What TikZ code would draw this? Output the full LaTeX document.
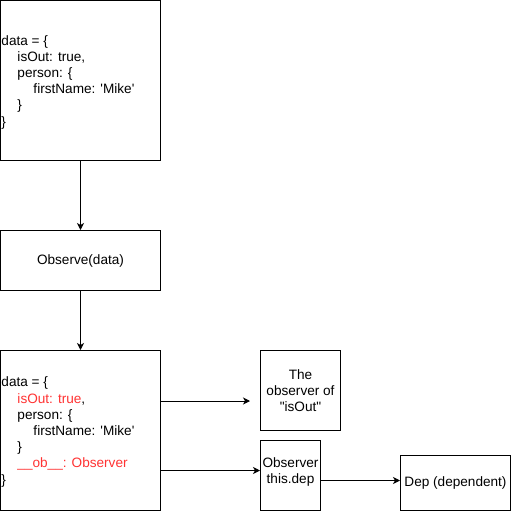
\documentclass[tikz,border=0pt]{standalone}
\usepackage{fontspec}
\setmainfont{Liberation Sans}[Ligatures=TeXOff]
\usetikzlibrary{arrows.meta}
\definecolor{codered}{RGB}{255,51,51}
\begin{document}
\begin{tikzpicture}[x=1pt,y=-1pt,line width=1pt,
  box/.style={draw=black,fill=white,inner sep=0pt},
  code/.style={anchor=west,align=left,inner sep=0pt,font=\fontsize{13.6}{16.2}\selectfont},
  lbl/.style={align=center,inner sep=0pt,font=\fontsize{13.6}{16.2}\selectfont},
  arr/.style={-{Stealth[length=7pt,width=7pt,inset=2pt]}}]
\useasboundingbox (0,0) rectangle (511,511);
% boxes
\node[box,minimum width=160pt,minimum height=159.5pt] (b1) at (80.5,80.5) {};
\node[box,minimum width=160pt,minimum height=60pt] (b2) at (80.5,260.5) {};
\node[box,minimum width=160pt,minimum height=160pt] (b3) at (80.5,430.5) {};
\node[box,minimum width=80pt,minimum height=80pt] (b4) at (300.5,390.5) {};
\node[box,minimum width=60pt,minimum height=70pt] (b5) at (290.5,475.5) {};
\node[box,minimum width=110pt,minimum height=55pt] (b6) at (455.5,482.5) {};
% texts
\node[code] (t1) at (1,82) {data = \{\\
\hspace*{16pt}isOut: true,\\
\hspace*{16pt}person: \{\\
\hspace*{32pt}firstName: 'Mike'\\
\hspace*{16pt}\}\\
\}};
\node[lbl] (t2) at (80.5,261) {Observe(data)};
\node[code] (t3) at (1,432) {data = \{\\
\hspace*{16pt}\textcolor{codered}{isOut: true},\\
\hspace*{16pt}person: \{\\
\hspace*{32pt}firstName: 'Mike'\\
\hspace*{16pt}\}\\
\hspace*{16pt}\textcolor{codered}{\_\_ob\_\_: Observer}\\
\}};
\node[lbl] (t4) at (300.5,390.5) {The\\observer of\\"isOut"};
\node[lbl] (t5) at (290.5,472) {Observer\\this.dep};
\node[lbl] (t6) at (455.5,482.5) {Dep (dependent)};
% connectors
\draw[arr] (b1.south) -- (b2.north);
\draw[arr] (b2.south) -- (b3.north);
\coordinate (p1) at (250,401);
\draw[arr] (b3.east |- p1) -- (p1);
\draw[arr] (b3.east |- 0,470.5) -- (b5.west |- 0,470.5);
\draw[arr] (b5.east |- 0,480.5) -- (b6.west |- 0,480.5);
\end{tikzpicture}
\end{document}
